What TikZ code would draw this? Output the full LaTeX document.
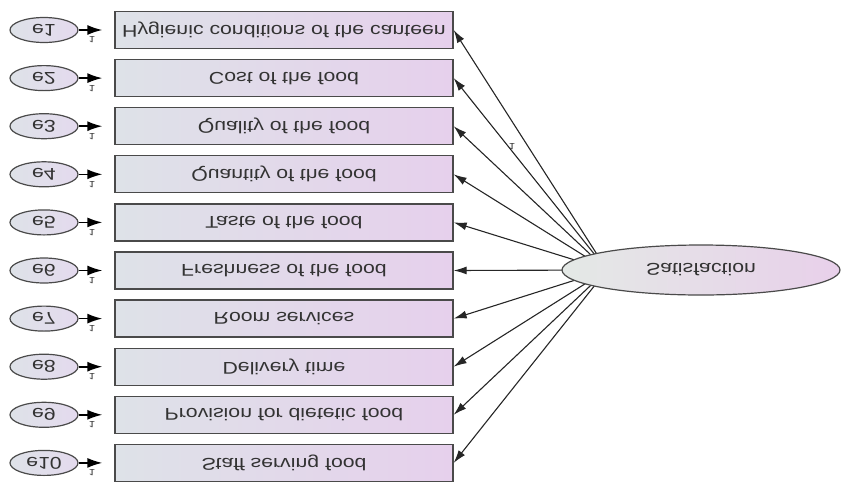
\documentclass[tikz,border=0pt]{standalone}
\usepackage{fontspec}
\setmainfont{Liberation Sans}
\usepackage{graphicx}
\usetikzlibrary{arrows.meta,backgrounds,shapes.geometric}

\definecolor{boxleft}{HTML}{DEE2E8}
\definecolor{boxright}{HTML}{E6D0EC}
\definecolor{errfill}{HTML}{E4DAEE}
\definecolor{latleft}{HTML}{E4E9E6}
\definecolor{latright}{HTML}{E8D0EA}
\definecolor{edge}{HTML}{4A4A4A}
\definecolor{ink}{HTML}{333333}

% labels are printed mirrored top to bottom and slightly widened
\newcommand{\mirrortext}[1]{\scalebox{1.25}[-1]{#1}}

\begin{document}
\begin{tikzpicture}[x=1pt,y=-1pt,
  indicator/.style={draw=edge, line width=1.3pt, left color=boxleft, right color=boxright,
    minimum width=338pt, minimum height=37pt, inner sep=0pt,
    font=\fontsize{17}{20}\selectfont, text=ink},
  errvar/.style={ellipse, draw=edge, line width=1.2pt, left color=boxleft, right color=errfill,
    minimum width=68pt, minimum height=25pt, inner sep=0pt,
    font=\fontsize{17}{20}\selectfont, text=ink},
  latent/.style={ellipse, draw=edge, line width=1.2pt, left color=latleft, right color=latright,
    minimum width=278pt, minimum height=50pt, inner sep=0pt,
    font=\fontsize{17}{20}\selectfont, text=ink},
  weight/.style={inner sep=0pt, font=\fontsize{9}{10}\selectfont, text=ink},
  errarrow/.style={draw=black, line width=1.6pt, shorten >=12pt,
    -{Latex[length=15pt,width=10pt]}},
  loadarrow/.style={draw=black!85, line width=1.1pt,
    -{Latex[length=13pt,width=8pt]}}]

\useasboundingbox (0,0) rectangle (841,483);

\node[latent] (sat) at (701,270) {\mirrortext{Satisfaction}};
\coordinate (aim) at (607,270);

\foreach \i/\t in {1/Hygienic conditions of the canteen,
                   2/Cost of the food,
                   3/Quality of the food,
                   4/Quantity of the food,
                   5/Taste of the food,
                   6/Freshness of the food,
                   7/Room services,
                   8/Delivery time,
                   9/Provision for dietetic food,
                   10/Staff serving food}{
  \pgfmathsetmacro{\rowy}{30+48.1*(\i-1)}
  \node[indicator] (v\i) at (284,\rowy) {\mirrortext{\t}};
  \node[errvar] (e\i) at (44,\rowy) {\mirrortext{e\i}};
  \draw[errarrow] (e\i) -- (v\i);
  \node[weight] (w\i) at (92,\rowy+10) {\mirrortext{1}};
}

% factor loadings, drawn beneath the latent ellipse
\begin{scope}[on background layer]
  \foreach \i in {1,...,10}{
    \draw[loadarrow] (aim) -- (v\i.east);
  }
\end{scope}

\node[weight] (w0) at (512,147) {\mirrortext{1}};

\end{tikzpicture}
\end{document}
